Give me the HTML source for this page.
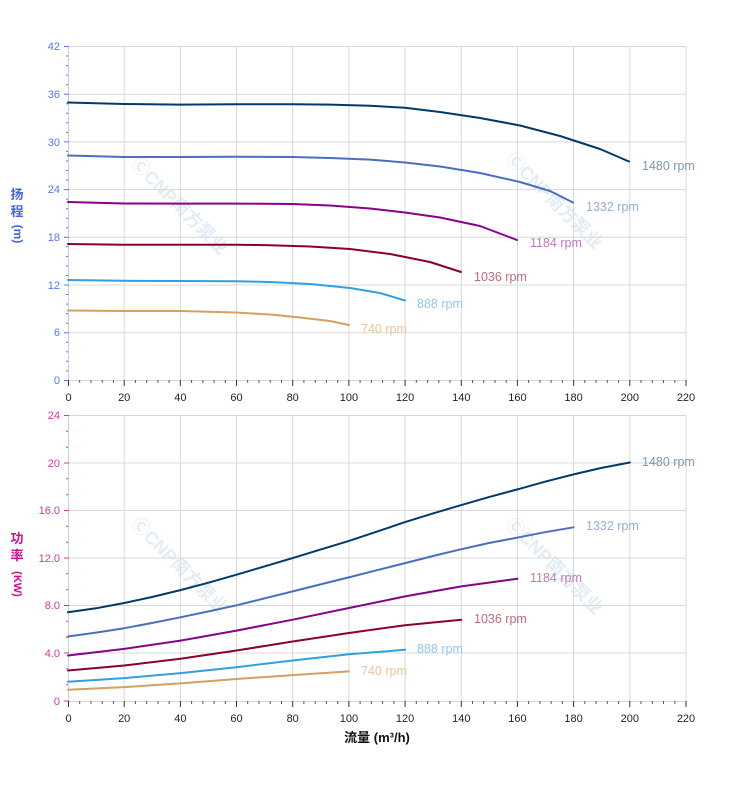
<!DOCTYPE html>
<html><head><meta charset="utf-8"><style>
html,body{margin:0;padding:0;background:#fff;}
svg{display:block;font-family:"Liberation Sans","Noto Sans CJK SC",sans-serif;}
</style></head><body>
<svg width="752" height="797" viewBox="0 0 752 797" xmlns="http://www.w3.org/2000/svg">
<g fill="#dde8f3" font-size="18" font-weight="bold" opacity="0.8">
<text transform="translate(130,165) rotate(45)">ⒸCNP南方泵业</text>
<text transform="translate(505,160) rotate(45)">ⒸCNP南方泵业</text>
<text transform="translate(130,525) rotate(45)">ⒸCNP南方泵业</text>
<text transform="translate(505,525) rotate(45)">ⒸCNP南方泵业</text>
</g>
<g stroke="#d8d8d8" stroke-width="1">
<line x1="68" y1="46.5" x2="686" y2="46.5"/><line x1="68" y1="94.2" x2="686" y2="94.2"/><line x1="68" y1="141.9" x2="686" y2="141.9"/><line x1="68" y1="189.6" x2="686" y2="189.6"/><line x1="68" y1="237.3" x2="686" y2="237.3"/><line x1="68" y1="285" x2="686" y2="285"/><line x1="68" y1="332.7" x2="686" y2="332.7"/>
<line x1="124.2" y1="46" x2="124.2" y2="380"/><line x1="180.4" y1="46" x2="180.4" y2="380"/><line x1="236.5" y1="46" x2="236.5" y2="380"/><line x1="292.7" y1="46" x2="292.7" y2="380"/><line x1="348.9" y1="46" x2="348.9" y2="380"/><line x1="405.1" y1="46" x2="405.1" y2="380"/><line x1="461.3" y1="46" x2="461.3" y2="380"/><line x1="517.4" y1="46" x2="517.4" y2="380"/><line x1="573.6" y1="46" x2="573.6" y2="380"/><line x1="629.8" y1="46" x2="629.8" y2="380"/><line x1="686" y1="46" x2="686" y2="380"/>
<line x1="68" y1="415.5" x2="686" y2="415.5"/><line x1="68" y1="463" x2="686" y2="463"/><line x1="68" y1="510.5" x2="686" y2="510.5"/><line x1="68" y1="558" x2="686" y2="558"/><line x1="68" y1="605.5" x2="686" y2="605.5"/><line x1="68" y1="653" x2="686" y2="653"/>
<line x1="124.2" y1="415" x2="124.2" y2="701"/><line x1="180.4" y1="415" x2="180.4" y2="701"/><line x1="236.5" y1="415" x2="236.5" y2="701"/><line x1="292.7" y1="415" x2="292.7" y2="701"/><line x1="348.9" y1="415" x2="348.9" y2="701"/><line x1="405.1" y1="415" x2="405.1" y2="701"/><line x1="461.3" y1="415" x2="461.3" y2="701"/><line x1="517.4" y1="415" x2="517.4" y2="701"/><line x1="573.6" y1="415" x2="573.6" y2="701"/><line x1="629.8" y1="415" x2="629.8" y2="701"/><line x1="686" y1="415" x2="686" y2="701"/>
<line x1="68" y1="380.5" x2="686" y2="380.5"/><line x1="68" y1="701.5" x2="686" y2="701.5"/>
</g>
<line x1="68.5" y1="46" x2="68.5" y2="380" stroke="#c8d0e8"/>
<line x1="68.5" y1="415" x2="68.5" y2="701" stroke="#c8d0e8"/>
<g id="yt1" stroke="#5577ee" stroke-width="1">
<path d="M64 46.5h5M64 94.2h5M64 141.9h5M64 189.6h5M64 237.3h5M64 285h5M64 332.7h5M64 380.5h5"/>
<path d="M66 56h2M66 65.6h2M66 75.1h2M66 84.7h2M66 103.7h2M66 113.3h2M66 122.8h2M66 132.4h2M66 151.4h2M66 161h2M66 170.5h2M66 180.1h2M66 199.1h2M66 208.7h2M66 218.2h2M66 227.8h2M66 246.8h2M66 256.4h2M66 265.9h2M66 275.5h2M66 294.5h2M66 304.1h2M66 313.6h2M66 323.2h2M66 342.2h2M66 351.8h2M66 361.3h2M66 370.9h2"/>
</g>
<g stroke="#dd3399" stroke-width="1">
<path d="M64 415.5h5M64 463h5M64 510.5h5M64 558h5M64 605.5h5M64 653h5M64 701h5"/>
<path d="M66 431.3h2M66 447.2h2M66 478.8h2M66 494.7h2M66 526.3h2M66 542.2h2M66 573.8h2M66 589.7h2M66 621.3h2M66 637.2h2M66 668.8h2M66 684.7h2"/>
</g>
<g stroke="#333" stroke-width="1">
<path d="M68.5 380v6M124.2 380v6M180.4 380v6M236.5 380v6M292.7 380v6M348.9 380v6M405.1 380v6M461.3 380v6M517.4 380v6M573.6 380v6M629.8 380v6M686 380v6"/>
<path d="M68.5 701v6M124.2 701v6M180.4 701v6M236.5 701v6M292.7 701v6M348.9 701v6M405.1 701v6M461.3 701v6M517.4 701v6M573.6 701v6M629.8 701v6M686 701v6"/>
</g>
<g stroke="#555" stroke-width="1">
<path d="M79.7 380v3M91 380v3M102.2 380v3M113.4 380v3M135.4 380v3M146.7 380v3M157.9 380v3M169.1 380v3M191.6 380v3M202.9 380v3M214.1 380v3M225.3 380v3M247.7 380v3M259 380v3M270.2 380v3M281.5 380v3M303.9 380v3M315.2 380v3M326.4 380v3M337.7 380v3M360.1 380v3M371.4 380v3M382.6 380v3M393.9 380v3M416.3 380v3M427.6 380v3M438.8 380v3M450 380v3M472.5 380v3M483.7 380v3M495 380v3M506.2 380v3M528.6 380v3M539.9 380v3M551.1 380v3M562.4 380v3M584.8 380v3M596.1 380v3M607.3 380v3M618.6 380v3M641 380v3M652.3 380v3M663.5 380v3M674.8 380v3"/>
<path d="M79.7 701v3M91 701v3M102.2 701v3M113.4 701v3M135.4 701v3M146.7 701v3M157.9 701v3M169.1 701v3M191.6 701v3M202.9 701v3M214.1 701v3M225.3 701v3M247.7 701v3M259 701v3M270.2 701v3M281.5 701v3M303.9 701v3M315.2 701v3M326.4 701v3M337.7 701v3M360.1 701v3M371.4 701v3M382.6 701v3M393.9 701v3M416.3 701v3M427.6 701v3M438.8 701v3M450 701v3M472.5 701v3M483.7 701v3M495 701v3M506.2 701v3M528.6 701v3M539.9 701v3M551.1 701v3M562.4 701v3M584.8 701v3M596.1 701v3M607.3 701v3M618.6 701v3M641 701v3M652.3 701v3M663.5 701v3M674.8 701v3"/>
</g>
<g font-size="11" fill="#5577ee" text-anchor="end">
<text x="60" y="50">42</text><text x="60" y="98">36</text><text x="60" y="146">30</text><text x="60" y="193">24</text><text x="60" y="241">18</text><text x="60" y="289">12</text><text x="60" y="336">6</text><text x="60" y="384">0</text>
</g>
<g font-size="11" fill="#dd3399" text-anchor="end">
<text x="60" y="419">24</text><text x="60" y="467">20</text><text x="60" y="514">16.0</text><text x="60" y="562">12.0</text><text x="60" y="609">8.0</text><text x="60" y="657">4.0</text><text x="60" y="705">0</text>
</g>
<g font-size="11" fill="#222" text-anchor="middle">
<text x="68.5" y="401">0</text><text x="124.2" y="401">20</text><text x="180.4" y="401">40</text><text x="236.5" y="401">60</text><text x="292.7" y="401">80</text><text x="348.9" y="401">100</text><text x="405.1" y="401">120</text><text x="461.3" y="401">140</text><text x="517.4" y="401">160</text><text x="573.6" y="401">180</text><text x="629.8" y="401">200</text><text x="686" y="401">220</text>
<text x="68.5" y="722">0</text><text x="124.2" y="722">20</text><text x="180.4" y="722">40</text><text x="236.5" y="722">60</text><text x="292.7" y="722">80</text><text x="348.9" y="722">100</text><text x="405.1" y="722">120</text><text x="461.3" y="722">140</text><text x="517.4" y="722">160</text><text x="573.6" y="722">180</text><text x="629.8" y="722">200</text><text x="686" y="722">220</text>
</g>
<g font-size="13" font-weight="bold" fill="#4466dd" text-anchor="middle">
<text x="17" y="199">扬</text><text x="17" y="216">程</text>
<text x="17" y="234" transform="rotate(90 17 234)" font-size="12" dominant-baseline="middle">(m)</text>
</g>
<g font-size="13" font-weight="bold" fill="#cc1188" text-anchor="middle">
<text x="17" y="543">功</text><text x="17" y="560">率</text>
<text x="17" y="584" transform="rotate(90 17 584)" font-size="11" dominant-baseline="middle">(KW)</text>
</g>
<text x="377" y="742" font-size="13" font-weight="bold" fill="#111" text-anchor="middle">流量 (m³/h)</text>
<g fill="none" stroke-width="2" stroke-linejoin="round" stroke-linecap="round">
<polyline stroke="#003a6b" points="68,102.5 124,104 180,104.6 236,104.3 292,104.3 330,104.6 370,105.8 405,107.8 440,112 480,118 520,125.5 560,136 600,149 629,161.5"/>
<polyline stroke="#4a6fbf" points="68,155.5 124,157 180,157 236,156.8 292,157 330,158 370,159.6 405,162.5 440,166.5 480,173 520,182 550,191 573,202.5"/>
<polyline stroke="#8b008b" points="68,202 124,203.5 180,203.6 236,203.6 292,204 330,205.5 370,208.5 405,212.5 440,217.5 480,226 517,240"/>
<polyline stroke="#8b0033" points="68,244 124,244.8 180,244.8 236,244.8 270,245.2 310,246.5 350,249 390,254 430,262 461,272"/>
<polyline stroke="#30a0e0" points="68,280 124,280.8 180,281 236,281.2 270,282 310,284 350,288 380,293 405,300.5"/>
<polyline stroke="#d4a060" points="68,310.5 124,311 180,311 236,312.5 270,314.5 300,317.5 330,321 349,325"/>
<polyline stroke="#003a6b" points="68,612.3 96,608.3 124.2,603 152,597 180.4,590.1 208,582.8 236.5,574.7 264,566.6 292.7,558.1 320,549.7 348.9,540.9 377,531.6 405.1,522.1 433,513.4 461.3,505.1 489,497.1 517.4,489.4 545,481.7 573.6,474.4 601,468 629.8,462.5"/>
<polyline stroke="#4a6fbf" points="68,636.5 96,632.6 124.2,628.2 152,623 180.4,617.3 208,611.5 236.5,605.3 264,598.5 292.7,591.4 320,584.5 348.9,577.4 377,570.2 405.1,563.1 433,556 461.3,549.2 489,543 517.4,537.6 545,532.2 573.6,527.3"/>
<polyline stroke="#8b008b" points="68,655.5 124.2,648.9 180.4,640.6 236.5,630.6 292.7,619.7 348.9,608 405.1,596.4 461.3,586.4 517.4,578.8"/>
<polyline stroke="#8b0033" points="68,670.5 124.2,665.5 180.4,658.8 236.5,650.5 292.7,641.5 348.9,633 405.1,625.2 461.3,619.7"/>
<polyline stroke="#30a0e0" points="68,681.8 124.2,678.1 180.4,673.1 236.5,667.2 292.7,660.5 348.9,654.2 405.1,649.8"/>
<polyline stroke="#d4a060" points="68,689.7 124.2,687.1 180.4,683.4 236.5,679 292.7,675.1 348.9,671.4"/>
</g>
<g font-size="12.5">
<text x="642" y="170" fill="#7f98b0">1480 rpm</text>
<text x="586" y="211" fill="#98acd8">1332 rpm</text>
<text x="530" y="247" fill="#c078c0">1184 rpm</text>
<text x="474" y="281" fill="#c06c78">1036 rpm</text>
<text x="417" y="308" fill="#90c8ee">888 rpm</text>
<text x="361" y="333" fill="#eac494">740 rpm</text>
<text x="642" y="466" fill="#7f98b0">1480 rpm</text>
<text x="586" y="530" fill="#98acd8">1332 rpm</text>
<text x="530" y="582" fill="#c078c0">1184 rpm</text>
<text x="474" y="623" fill="#c06c78">1036 rpm</text>
<text x="417" y="653" fill="#90c8ee">888 rpm</text>
<text x="361" y="675" fill="#eac494">740 rpm</text>
</g>
</svg>
</body></html>
